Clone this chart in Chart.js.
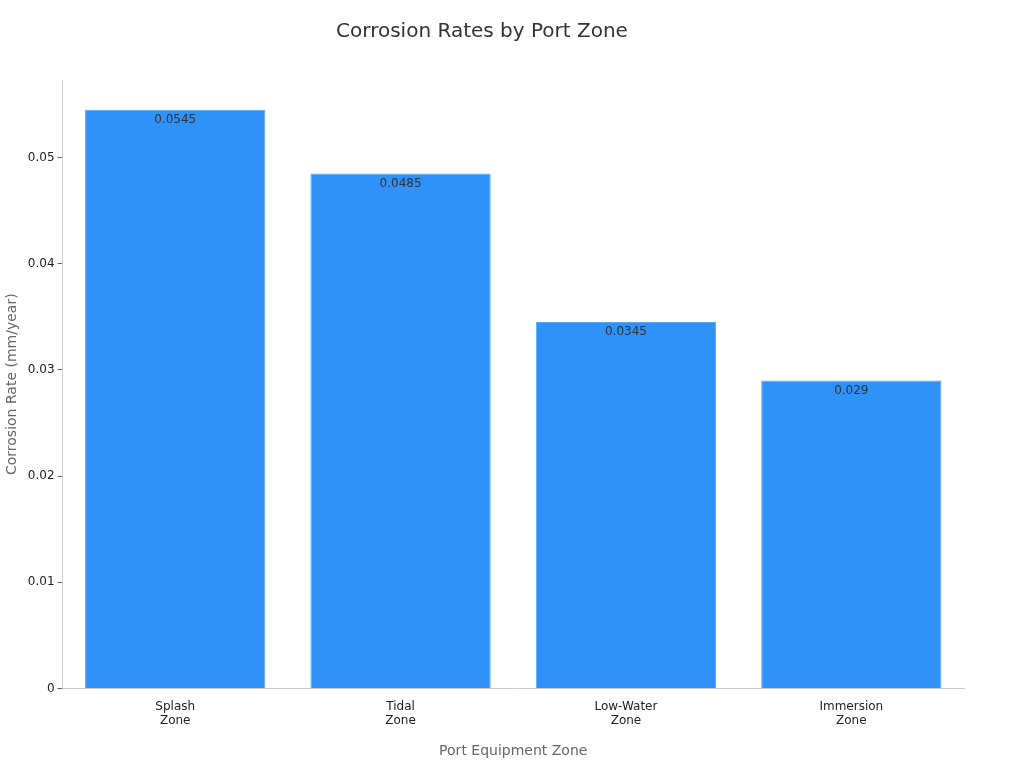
<!DOCTYPE html>
<html><head><meta charset="utf-8">
<script src="https://cdn.jsdelivr.net/npm/chart.js@4"></script>
<style>html,body{margin:0;padding:0;background:#fff}#w{width:1024px;height:768px}</style>
</head><body><div id="w"><canvas id="c"></canvas></div>
<script>
const categories = [["Splash","Zone"],["Tidal","Zone"],["Low-Water","Zone"],["Immersion","Zone"]];
const rates = [0.0545, 0.0485, 0.0345, 0.029];
const valueLabels = ["0.0545","0.0485","0.0345","0.029"];

const labelPlugin = {
  id: 'vals',
  afterDatasetsDraw(chart) {
    const ctx = chart.ctx;
    chart.getDatasetMeta(0).data.forEach((bar, i) => {
      ctx.save();
      ctx.font = '12px "DejaVu Sans"';
      ctx.fillStyle = '#333';
      ctx.textAlign = 'center';
      ctx.textBaseline = 'top';
      ctx.fillText(valueLabels[i], bar.x, bar.y + 4);
      ctx.restore();
    });
  }
};

new Chart(document.getElementById('c'), {
  type: 'bar',
  data: { labels: categories, datasets: [{ data: rates, backgroundColor: '#2f92f8', borderColor: '#5aa8f8', borderWidth: 1, barPercentage: 0.8, categoryPercentage: 1 }] },
  options: {
    responsive: true, maintainAspectRatio: false, animation: false,
    layout: { padding: { left: 0, right: 60, top: 10, bottom: 4 } },
    plugins: {
      legend: { display: false }, tooltip: { enabled: false },
      title: { display: true, text: 'Corrosion Rates by Port Zone', color: '#333', font: { family: 'DejaVu Sans', size: 20, weight: 'normal' }, padding: { top: 10, bottom: 36 } }
    },
    scales: {
      x: {
        grid: { display: false, drawTicks: true },
        border: { color: '#ccc' },
        ticks: { color: '#222', font: { family: 'DejaVu Sans', size: 12 } },
        title: { display: true, text: 'Port Equipment Zone', color: '#666', font: { family: 'DejaVu Sans', size: 14 }, padding: { top: 12 } }
      },
      y: {
        min: 0, max: 0.0573,
        grid: { display: true, drawOnChartArea: false, color: '#666', tickLength: 5 },
        border: { color: '#ccc' },
        afterBuildTicks: (s) => { s.ticks = [0,0.01,0.02,0.03,0.04,0.05].map(v => ({ value: v })); },
        ticks: { color: '#222', font: { family: 'DejaVu Sans', size: 12 }, callback: v => v === 0 ? '0' : String(+v.toFixed(2)) },
        title: { display: true, text: 'Corrosion Rate (mm/year)', color: '#666', font: { family: 'DejaVu Sans', size: 14 } }
      }
    }
  },
  plugins: [labelPlugin]
});
</script></body></html>
